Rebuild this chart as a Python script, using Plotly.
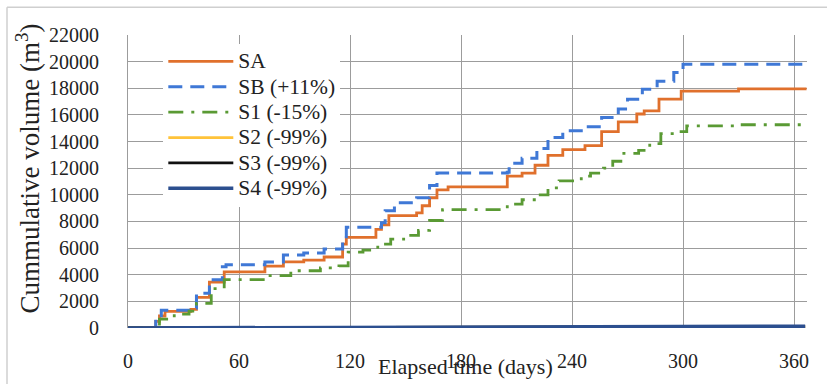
import plotly.graph_objects as go

# ---- data ----
sa_days = [0, 15, 17, 20, 34, 37, 44, 52, 74, 84, 95, 106, 116, 118, 134, 137, 141, 156, 159, 163, 167, 173,
           205, 213, 220, 227, 235, 247, 256, 265, 275, 279, 287, 299, 330, 366]
sa_vals = [0, 500, 900, 1250, 1400, 2300, 3450, 4220, 4650, 4960, 5100, 5330, 6300, 6800, 7400, 7750, 8440, 8650,
           9180, 9780, 10370, 10590, 11400, 11630, 12220, 12960, 13400, 13700, 14740, 15480, 16070, 16300, 17180,
           17780, 17950, 18050]

sb_days = [0, 15, 18, 34, 37, 44, 51, 53, 74, 84, 95, 106, 116, 118, 137, 139, 144, 156, 163, 167, 205, 206,
           213, 221, 227, 235, 247, 256, 265, 270, 278, 286, 295, 300, 366]
sb_vals = [0, 500, 1330, 1500, 2600, 3630, 4600, 4740, 4960, 5480, 5630, 5930, 6670, 7560, 7900, 8810, 9400,
           9780, 10700, 11630, 11700, 12370, 12740, 13480, 14300, 14810, 15110, 15800, 16440, 17180, 17930, 18520,
           19180, 19800, 19980]

s1_days = [0, 17, 25, 33, 37, 45, 52, 76, 88, 104, 114, 119, 127, 135, 142, 149, 157, 163, 170, 205, 213, 221,
           227, 233, 245, 250, 257, 262, 268, 276, 282, 288, 298, 302, 330, 366]
s1_vals = [0, 670, 1040, 1260, 1850, 2960, 3630, 3930, 4300, 4520, 4670, 5700, 5850, 6300, 6670, 6960, 7330, 8070,
           8890, 9300, 9630, 10000, 10520, 11040, 11400, 11630, 12000, 12520, 13110, 13330, 13850, 14590, 14740,
           15180, 15260, 15330]

low_days = [0, 60, 120, 180, 240, 300, 366]
s2_vals = [0, 10, 25, 45, 65, 90, 110]
s3_vals = [0, 10, 25, 45, 65, 90, 110]
s4_vals = [0, 15, 30, 55, 80, 105, 130]

series_names = ["SA", "SB (+11%)", "S1 (-15%)", "S2 (-99%)", "S3 (-99%)", "S4 (-99%)"]

x_ticks = [0, 60, 120, 180, 240, 300, 360]
y_ticks = list(range(0, 22001, 2000))

FONT = "Liberation Serif, Times New Roman, serif"
GRID = "#9c9c9c"
TXT = "#222222"


def lg(name):
    # larger glyphs inside a tightly spaced legend row
    return '<span style="font-size:21.5px">' + name + '</span>'


fig = go.Figure()
fig.add_trace(go.Scatter(x=sa_days, y=sa_vals, mode="lines", name=lg(series_names[0]), line_shape="hv",
                         line=dict(color="#e0702c", width=2.8)))
fig.add_trace(go.Scatter(x=sb_days, y=sb_vals, mode="lines", name=lg(series_names[1]), line_shape="hv",
                         line=dict(color="#3f78d6", width=3, dash="14px,8px")))
fig.add_trace(go.Scatter(x=s1_days, y=s1_vals, mode="lines", name=lg(series_names[2]), line_shape="hv",
                         line=dict(color="#5a9a34", width=2.8, dash="15px,8px,3px,8px")))
fig.add_trace(go.Scatter(x=low_days, y=s2_vals, mode="lines", name=lg(series_names[3]),
                         line=dict(color="#ffc33a", width=2.8)))
fig.add_trace(go.Scatter(x=low_days, y=s3_vals, mode="lines", name=lg(series_names[4]),
                         line=dict(color="#111111", width=2.8)))
fig.add_trace(go.Scatter(x=low_days, y=s4_vals, mode="lines", name=lg(series_names[5]),
                         line=dict(color="#2c4f8f", width=3.6)))

fig.update_layout(
    width=827, height=384,
    margin=dict(l=128, r=20, t=35, b=52),
    paper_bgcolor="white", plot_bgcolor="white",
    font=dict(family=FONT, size=20, color=TXT),
    showlegend=True,
    legend=dict(x=0.052, y=0.97, xanchor="left", yanchor="top", bgcolor="white",
                borderwidth=0, font=dict(family=FONT, size=17.2, color=TXT),
                itemwidth=65, tracegroupgap=0),
    xaxis=dict(range=[0, 367], tickvals=x_ticks, ticktext=[str(v) for v in x_ticks],
               showgrid=True, gridcolor=GRID, gridwidth=1, zeroline=False,
               showline=False, ticks="", ticklabelstandoff=19,
               tickfont=dict(family=FONT, size=20, color=TXT)),
    yaxis=dict(range=[0, 22000], tickvals=y_ticks, ticktext=[str(v) for v in y_ticks],
               showgrid=True, gridcolor=GRID, gridwidth=1, zeroline=False,
               showline=True, linecolor=GRID, linewidth=1, ticks="", ticklabelstandoff=24,
               tickfont=dict(family=FONT, size=20, color=TXT)),
    annotations=[
        dict(text="Elapsed time (days)", xref="paper", yref="paper", x=0.497, y=-0.132,
             xanchor="center", yanchor="middle", showarrow=False,
             font=dict(family=FONT, size=22, color=TXT)),
        dict(text="Cummulative volume (m<sup>3</sup>)", xref="paper", yref="paper",
             x=-0.147, y=0.545, xanchor="center", yanchor="middle", textangle=-90,
             showarrow=False, font=dict(family=FONT, size=27, color=TXT)),
    ],
    shapes=[
        dict(type="line", xref="paper", yref="paper", x0=-0.1782, x1=1.05, y0=1.0943, y1=1.0943,
             line=dict(color="#cfcfcf", width=1.5)),
        dict(type="line", xref="paper", yref="paper", x0=-0.1782, x1=-0.1782, y0=-0.2, y1=1.0943,
             line=dict(color="#cfcfcf", width=1.5)),
    ],
)

fig.write_html("out.html", config={"displayModeBar": False},
               post_script="document.body.style.margin='0px';")
